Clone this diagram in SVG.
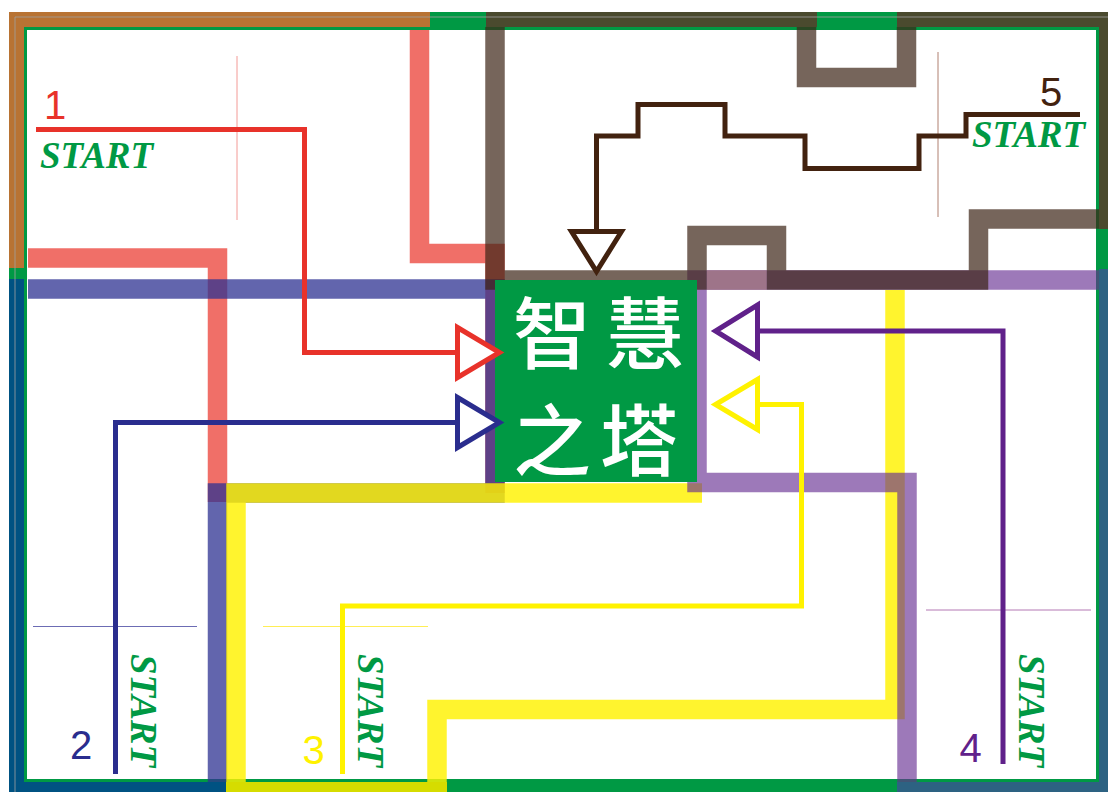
<svg xmlns="http://www.w3.org/2000/svg" width="1108" height="792" viewBox="0 0 1108 792">
<defs>
<style>
.wall{fill:none;stroke-width:19.5;stroke-linejoin:miter;stroke-linecap:butt}
.w-red{stroke:#E8281E;stroke-opacity:0.67}
.w-blue{stroke:#2E3192;stroke-opacity:0.75}
.w-yellow{stroke:#FFF200;stroke-opacity:0.82}
.w-purple{stroke:#662D91;stroke-opacity:0.64}
.w-brown{stroke:#3C2415;stroke-opacity:0.7}
.route{fill:none;stroke-width:5;stroke-linejoin:miter;stroke-linecap:butt}
.guide{fill:none;stroke-width:1}
.num{font-family:"Liberation Sans","DejaVu Sans",sans-serif;font-size:40px;text-anchor:middle}
.start{font-family:"Liberation Serif","DejaVu Serif",serif;font-weight:bold;font-style:italic;font-size:37px;fill:#009944}
.cjk{font-family:"Noto Sans CJK TC","Noto Sans CJK SC",sans-serif;font-size:78px;font-weight:500;fill:#ffffff;text-anchor:middle}
.head{fill:#ffffff;stroke-width:5;stroke-linejoin:miter}
</style>
<marker id="ah-red" markerUnits="userSpaceOnUse" orient="auto" refX="0" refY="0" markerWidth="60" markerHeight="60" overflow="visible"><path class="head" d="M0,-25 L42,0 L0,25 Z" stroke="#E8322A"/></marker>
<marker id="ah-blue" markerUnits="userSpaceOnUse" orient="auto" refX="0" refY="0" markerWidth="60" markerHeight="60" overflow="visible"><path class="head" d="M0,-25 L42,0 L0,25 Z" stroke="#2A2D8E"/></marker>
<marker id="ah-yellow" markerUnits="userSpaceOnUse" orient="auto" refX="0" refY="0" markerWidth="60" markerHeight="60" overflow="visible"><path class="head" d="M0,-25 L42,0 L0,25 Z" stroke="#FFF200"/></marker>
<marker id="ah-purple" markerUnits="userSpaceOnUse" orient="auto" refX="0" refY="0" markerWidth="60" markerHeight="60" overflow="visible"><path class="head" d="M0,-26 L42,0 L0,26 Z" stroke="#60218A"/></marker>
<marker id="ah-brown" markerUnits="userSpaceOnUse" orient="auto" refX="0" refY="0" markerWidth="60" markerHeight="60" overflow="visible"><path class="head" d="M0,-25 L40,0 L0,25 Z" stroke="#42220F"/></marker>
</defs>
<rect x="0" y="0" width="1108" height="792" fill="#ffffff"/>

<g id="frame">
<rect x="9" y="12" width="1099" height="18" fill="#009944"/>
<rect x="9" y="12" width="18" height="780" fill="#009944"/>
<rect x="1096" y="12" width="12" height="780" fill="#009944"/>
<rect x="9" y="779" width="1099" height="13" fill="#009944"/>
<rect x="9" y="12" width="421" height="15" fill="#B87333"/>
<rect x="9" y="12" width="15" height="256" fill="#B87333"/>
<rect x="486" y="12" width="331" height="15" fill="#4A4A2E"/>
<rect x="897" y="12" width="211" height="15" fill="#4A4A2E"/>
<rect x="1099" y="12" width="9" height="217" fill="#4A4A2E"/>
<rect x="1099" y="269" width="9" height="523" fill="#2D6282"/>
<rect x="897" y="782" width="211" height="10" fill="#2D6282"/>
<rect x="9" y="279" width="15" height="513" fill="#005282"/>
<rect x="9" y="782" width="217" height="10" fill="#005282"/>
<rect x="226" y="782" width="221" height="10" fill="#D6DC00"/>
<path d="M15,792 V17 H1108" fill="none" stroke="#A0A0A0" stroke-width="1" stroke-opacity="0.8"/>
</g>

<g id="walls">
<path class="wall w-red" d="M419.5,30 V253.5 H495 V493"/>
<path class="wall w-red" d="M28,258 H217.5 V502"/>
<path class="wall w-blue" d="M28,289 H495 V493 H217.5 V782"/>
<path class="wall w-yellow" d="M236,782 V493 H702"/>
<path class="wall w-yellow" d="M437,782 V709.5 H895 V290"/>
<path class="wall w-purple" d="M1099,280 H697 V482.5 H907 V782"/>
<rect x="706.75" y="270.25" width="60" height="19.5" fill="#9E7489"/>
<path class="wall w-brown" d="M495,27 V280 H697 V235.5 H776.5 V280 H978.5 V219 H1099"/>
<path class="wall w-brown" d="M806.5,27 V77.5 H906.5 V27"/>
</g>

<g id="tower">
<rect x="495" y="280" width="202" height="202" fill="#009944"/>
<text class="cjk" x="552" y="363">智</text>
<text class="cjk" x="645" y="363">慧</text>
<text class="cjk" x="552" y="470">之</text>
<text class="cjk" x="639" y="470">塔</text>
</g>

<g id="start-1">
<line class="guide" x1="237" y1="56" x2="237" y2="220" stroke="#F39A96"/>
<text class="num" x="55" y="119" fill="#E8322A">1</text>
<text class="start" x="40" y="168">START</text>
</g>
<g id="start-2">
<line class="guide" x1="33" y1="626.5" x2="197" y2="626.5" stroke="#6C6CB4"/>
<text class="num" x="81" y="759" fill="#2A2D8E">2</text>
<text class="start" transform="translate(131,654) rotate(90)">START</text>
</g>
<g id="start-3">
<line class="guide" x1="263" y1="626.5" x2="428" y2="626.5" stroke="#FFEE55"/>
<text class="num" x="313.5" y="764" fill="#FFF200">3</text>
<text class="start" transform="translate(358,654) rotate(90)">START</text>
</g>
<g id="start-4">
<line class="guide" x1="926" y1="610" x2="1091" y2="610" stroke="#B478B4"/>
<text class="num" x="970.5" y="762" fill="#60218A">4</text>
<text class="start" transform="translate(1019,654) rotate(90)">START</text>
</g>
<g id="start-5">
<line class="guide" x1="938" y1="52" x2="938" y2="217" stroke="#B08070"/>
<text class="num" x="1051" y="106" fill="#42220F">5</text>
<text class="start" x="972" y="147">START</text>
</g>

<g id="connectors">
<path class="route" d="M36,129.5 H304.5 V352.5 H457.5" stroke="#E8322A" marker-end="url(#ah-red)"/>
<path class="route" d="M115.5,774 V422.5 H457.5" stroke="#2A2D8E" marker-end="url(#ah-blue)"/>
<path class="route" d="M342.5,774 V606 H801.5 V404.5 H757.5" stroke="#FFF200" marker-end="url(#ah-yellow)"/>
<path class="route" d="M1003,764 V331 H757.5" stroke="#60218A" marker-end="url(#ah-purple)"/>
<path class="route" d="M1080,114.5 H966 V136 H919 V168.5 H805 V136 H725 V104.5 H638 V136 H596.5 V231.5" stroke="#42220F" marker-end="url(#ah-brown)"/>
</g>
</svg>
